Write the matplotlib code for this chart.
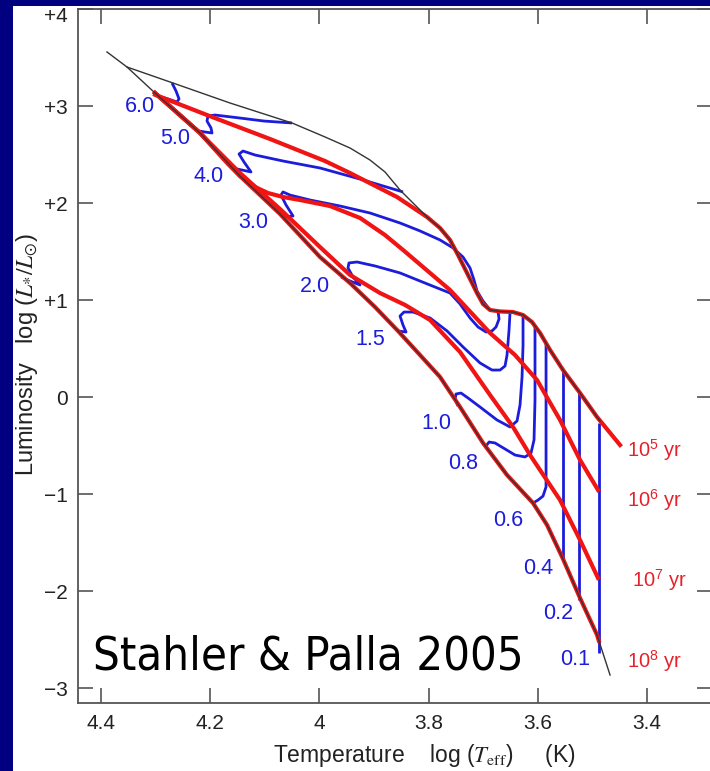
import matplotlib
matplotlib.use("Agg")
import matplotlib.pyplot as plt
import matplotlib.transforms as mtransforms
from matplotlib.patches import Rectangle

plt.rcParams['font.family'] = ['Liberation Sans', 'DejaVu Sans']
plt.rcParams['mathtext.fontset'] = 'stix'

# ---------------- data (log Teff, log L/Lsun) ----------------
birthline_T = [4.3885, 4.3519, 4.2677, 4.1634, 4.0499, 3.9896, 3.9438, 3.9072, 3.8798, 3.8523,
               3.8285, 3.8029, 3.7791, 3.7608, 3.7461, 3.7297, 3.7114, 3.7004, 3.6876, 3.6693,
               3.6455, 3.6272, 3.6108, 3.5961, 3.5778, 3.5540, 3.5229, 3.4918, 3.4863]
birthline_L = [3.560, 3.405, 3.240, 3.034, 2.828, 2.684, 2.570, 2.446, 2.323, 2.137,
               2.003, 1.859, 1.745, 1.622, 1.467, 1.282, 1.075, 0.962, 0.900, 0.885,
               0.879, 0.848, 0.776, 0.663, 0.488, 0.281, 0.044, -0.203, -0.244]

zams_T = [4.3519, 4.3006, 4.2183, 4.1451, 4.0719, 3.9987, 3.9438, 3.8981, 3.8560, 3.8157,
          3.7791, 3.7425, 3.7004, 3.6565, 3.6089, 3.5833, 3.5540, 3.5229, 3.4918, 3.4680]
zams_L = [3.405, 3.137, 2.725, 2.281, 1.890, 1.446, 1.178, 0.931, 0.684, 0.436,
          0.210, -0.100, -0.471, -0.801, -1.090, -1.316, -1.667, -2.070, -2.450, -2.863]

iso5_T = [4.3006, 4.1963, 4.0902, 3.9896, 3.9438, 3.8578, 3.8029, 3.7791, 3.7608, 3.7461,
          3.7297, 3.7114, 3.7004, 3.6876, 3.6693, 3.6455, 3.6272, 3.6108, 3.5961, 3.5778,
          3.5540, 3.5229, 3.4918, 3.4497]
iso5_L = [3.119, 2.890, 2.663, 2.436, 2.312, 2.065, 1.859, 1.745, 1.622, 1.467,
          1.282, 1.075, 0.962, 0.900, 0.885, 0.879, 0.848, 0.776, 0.663, 0.488,
          0.281, 0.044, -0.203, -0.492]

iso6_T = [4.3006, 4.2183, 4.1671, 4.1451, 4.1176, 4.0939, 4.0664, 4.0353, 3.9804, 3.9255,
          3.8798, 3.8468, 3.7608, 3.6876, 3.6419, 3.6016, 3.5595, 3.5229, 3.4900]
iso6_L = [3.137, 2.725, 2.405, 2.281, 2.168, 2.106, 2.065, 2.034, 1.972, 1.849,
          1.673, 1.519, 1.106, 0.663, 0.436, 0.178, -0.234, -0.646, -0.956]

iso7_T = [4.3006, 4.2183, 4.1451, 4.0719, 3.9987, 3.9438, 3.8889, 3.8431, 3.7974, 3.7425,
          3.6876, 3.6455, 3.6144, 3.5595, 3.5229, 3.4900]
iso7_L = [3.137, 2.725, 2.312, 1.941, 1.549, 1.261, 1.075, 0.952, 0.797, 0.467,
          0.024, -0.306, -0.595, -1.059, -1.471, -1.863]

iso8_T = [4.3006, 4.2183, 4.1451, 4.0719, 3.9987, 3.9438, 3.8981, 3.8560, 3.8157, 3.7791,
          3.7425, 3.7004, 3.6565, 3.6089, 3.5833, 3.5540, 3.5229, 3.4918, 3.4885]
iso8_L = [3.137, 2.725, 2.281, 1.890, 1.446, 1.178, 0.931, 0.684, 0.436, 0.210,
          -0.100, -0.471, -0.801, -1.090, -1.316, -1.667, -2.070, -2.450, -2.510]

trk60_T = [4.2695, 4.2622, 4.2567, 4.2604, 4.2769, 4.2952]
trk60_L = [3.240, 3.158, 3.076, 3.044, 3.076, 3.106]
trk50_T = [4.0499, 4.1012, 4.1451, 4.1908, 4.2037, 4.2055, 4.1982, 4.1963, 4.2092, 4.2201]
trk50_L = [2.828, 2.848, 2.879, 2.910, 2.900, 2.848, 2.777, 2.725, 2.735, 2.745]
trk40_T = [3.8468, 3.9255, 3.9987, 4.0664, 4.1176, 4.1396, 4.1469, 4.1378, 4.1250, 4.1414, 4.1597]
trk40_L = [2.117, 2.250, 2.364, 2.436, 2.498, 2.539, 2.508, 2.426, 2.323, 2.343, 2.364]
trk30_T = [3.6876, 3.7004, 3.7114, 3.7169, 3.7242, 3.7370, 3.7553, 3.7791, 3.8157, 3.8523,
           3.9072, 3.9621, 4.0170, 4.0536, 4.0664, 4.0701, 4.0609, 4.0481, 4.0627, 4.0740]
trk30_L = [0.900, 0.993, 1.096, 1.209, 1.333, 1.446, 1.540, 1.622, 1.715, 1.797,
           1.900, 1.972, 2.034, 2.085, 2.117, 2.085, 1.983, 1.869, 1.859, 1.895]
trk20_T = [3.6730, 3.6711, 3.6766, 3.6840, 3.6949, 3.7096, 3.7242, 3.7425, 3.7608, 3.8066,
           3.8523, 3.8981, 3.9310, 3.9457, 3.9475, 3.9383, 3.9255, 3.9438, 3.9603]
trk20_L = [0.890, 0.807, 0.725, 0.684, 0.673, 0.725, 0.818, 0.962, 1.075, 1.178,
           1.282, 1.354, 1.395, 1.385, 1.333, 1.240, 1.158, 1.199, 1.240]
trk15_T = [3.6510, 3.6528, 3.6565, 3.6601, 3.6693, 3.6840, 3.7059, 3.7370, 3.7663, 3.7974,
           3.8285, 3.8450, 3.8523, 3.8468, 3.8413, 3.8560]
trk15_L = [0.879, 0.694, 0.436, 0.323, 0.281, 0.281, 0.354, 0.519, 0.684, 0.818,
           0.879, 0.879, 0.838, 0.745, 0.673, 0.684]
trk10_T = [3.6272, 3.6272, 3.6290, 3.6327, 3.6382, 3.6510, 3.6748, 3.7059, 3.7279, 3.7407,
           3.7498, 3.7516, 3.7462]
trk10_L = [0.838, 0.539, 0.210, -0.079, -0.244, -0.306, -0.234, -0.100, -0.007, 0.044,
           0.034, -0.018, -0.090]
trk08_T = [3.6053, 3.6053, 3.6053, 3.6071, 3.6126, 3.6236, 3.6419, 3.6601, 3.6784, 3.6894,
           3.6949, 3.6931]
trk08_L = [0.740, 0.384, -0.028, -0.440, -0.574, -0.615, -0.595, -0.533, -0.471, -0.461,
           -0.502, -0.533]
trk06_T = [3.5851, 3.5851, 3.5906, 3.5997, 3.6089]
trk06_L = [0.560, -0.924, -1.018, -1.059, -1.090]
trk04_T = [3.5544, 3.5544]
trk04_L = [0.290, -1.670]
trk02_T = [3.5239, 3.5239]
trk02_L = [0.055, -2.090]
trk01_T = [3.4880, 3.4880]
trk01_L = [-0.260, -2.640]

mass_labels = ["6.0", "5.0", "4.0", "3.0", "2.0", "1.5", "1.0", "0.8", "0.6", "0.4", "0.2", "0.1"]
mass_label_T = [4.3281, 4.2640, 4.2031, 4.1213, 4.0079, 3.9072, 3.7852, 3.7365, 3.6542, 3.5993, 3.5627, 3.5321]
mass_label_L = [2.996, 2.670, 2.274, 1.807, 1.140, 0.591, -0.268, -0.680, -1.265, -1.763, -2.227, -2.708]

age_labels = [r"$\mathregular{10^5}$ yr", r"$\mathregular{10^6}$ yr",
              r"$\mathregular{10^7}$ yr", r"$\mathregular{10^8}$ yr"]
age_label_T = [3.4370, 3.4370, 3.4279, 3.4370]
age_label_L = [-0.544, -1.059, -1.884, -2.719]

x_ticks = [4.4, 4.2, 4.0, 3.8, 3.6, 3.4]
x_ticklabels = ["4.4", "4.2", "4", "3.8", "3.6", "3.4"]
y_ticks = [-3, -2, -1, 0, 1, 2, 3, 4]
y_ticklabels = ["\u22123", "\u22122", "\u22121", "0", "+1", "+2", "+3", "+4"]

# ---------------- figure ----------------
RED = "#f01414"
BLUE = "#1c1cdc"
BLACK = "#333333"

fig = plt.figure(figsize=(7.1, 7.71), dpi=100, facecolor="#000080")
bg = Rectangle((13 / 710, 0), 1, 1 - 6 / 771, transform=fig.transFigure,
               facecolor="white", edgecolor="none", zorder=-10)
fig.patches.append(bg)
ax = fig.add_axes([0.10986, 0.08820, 0.89296, 0.89974])
ax.set_zorder(1)
ax.set_facecolor("white")
ax.set_xlim(4.44154, 3.28143)
ax.set_ylim(-3.1515, 4.0)

tracks = [(trk60_T, trk60_L), (trk50_T, trk50_L), (trk40_T, trk40_L), (trk30_T, trk30_L),
          (trk20_T, trk20_L), (trk15_T, trk15_L), (trk10_T, trk10_L), (trk08_T, trk08_L),
          (trk06_T, trk06_L), (trk04_T, trk04_L), (trk02_T, trk02_L), (trk01_T, trk01_L)]
for tT, tL in tracks:
    ax.plot(tT, tL, color=BLUE, lw=2.0, zorder=2, solid_capstyle='butt', solid_joinstyle='round')

for iT, iL in [(iso5_T, iso5_L), (iso6_T, iso6_L), (iso7_T, iso7_L), (iso8_T, iso8_L)]:
    ax.plot(iT, iL, color=RED, lw=3.0, zorder=3, solid_joinstyle='round')

ax.plot(birthline_T, birthline_L, color=BLACK, lw=1.0, zorder=4)
ax.plot(zams_T, zams_L, color=BLACK, lw=1.0, zorder=4)

for lab, lt, ll in zip(mass_labels, mass_label_T, mass_label_L):
    ax.text(lt, ll, lab, color=BLUE, fontsize=15.5, ha="center", va="center", zorder=5)

for lab, lt, ll in zip(age_labels, age_label_T, age_label_L):
    ax.text(lt, ll, lab, color="#e5222c", fontsize=14.5, ha="left", va="center", zorder=5)

ax.text(4.4141, -2.811, "Stahler & Palla 2005", fontsize=33.8, family="DejaVu Sans",
        fontstretch="condensed", color="black", ha="left", va="baseline", zorder=6)

# axes styling
ax.set_xticks(x_ticks)
ax.set_xticklabels(x_ticklabels)
ax.set_yticks(y_ticks)
ax.set_yticklabels(y_ticklabels)
ax.tick_params(axis="both", which="major", direction="in", length=10.8, width=1.2,
               color="#555555", top=True, right=True, labelsize=15, labelcolor="#222222")
ax.tick_params(axis="x", pad=8.0)
ax.tick_params(axis="y", pad=7.5)
for sp in ax.spines.values():
    sp.set_color("#555555")
    sp.set_linewidth(1.3)

top_tick = ax.yaxis.get_major_ticks()[-1]
top_tick.label1.set_transform(top_tick.label1.get_transform() +
                              mtransforms.ScaledTranslation(0, -4 / 72, fig.dpi_scale_trans))

ax.text(0.3076, -0.0851, r"Temperature    log ($T_{\mathrm{eff}}$)     (K)", transform=ax.transAxes,
        fontsize=16.5, color="#222222", ha="left", va="baseline")
ax.text(-0.0710, 0.503, r"Luminosity   log ($L_{*}/L_{\odot}$)", transform=ax.transAxes,
        fontsize=17, color="#222222", rotation=90, rotation_mode="anchor",
        ha="center", va="baseline")

fig.savefig("out.png", dpi=100, facecolor=fig.get_facecolor())
